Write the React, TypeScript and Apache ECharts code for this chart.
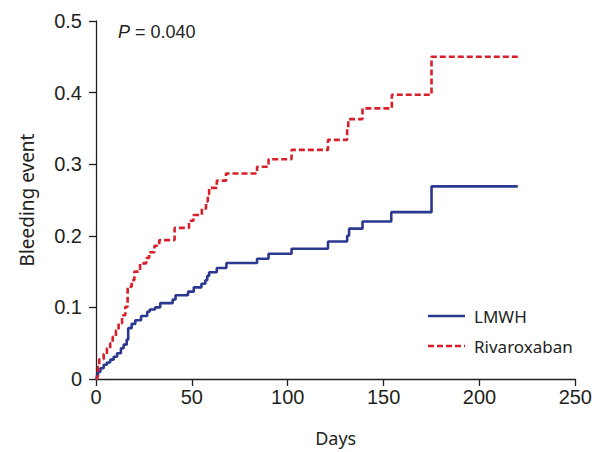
import React, { useEffect, useRef } from "react";
import * as echarts from "echarts";

const lmwhDays = [0, 0.5, 1, 2.3, 4, 5.7, 7.4, 9.2, 11, 13, 14.4, 16, 16.8, 18.6, 20.5, 23.5, 26.7, 28, 30.8, 33.5, 40, 41.5, 48, 51, 55, 57, 58, 59, 63, 68, 84, 90, 102, 121, 131, 132, 139, 154, 175, 220];
const lmwhValues = [0, 0.005, 0.01, 0.015, 0.02, 0.023, 0.027, 0.031, 0.036, 0.043, 0.048, 0.055, 0.071, 0.077, 0.082, 0.088, 0.094, 0.097, 0.1, 0.106, 0.111, 0.117, 0.122, 0.128, 0.133, 0.138, 0.144, 0.149, 0.155, 0.162, 0.168, 0.175, 0.182, 0.192, 0.2, 0.21, 0.22, 0.233, 0.269, 0.269];

const rivaDays = [0, 0.5, 1, 1.7, 4, 5.7, 7.4, 8.7, 10.4, 11.8, 13.6, 15.3, 16.5, 18.6, 20, 23, 26.2, 27.7, 30.5, 33, 41, 48.5, 50.8, 55.2, 57.4, 58.3, 59, 63, 67.8, 84, 90, 102, 121, 131, 131.6, 139, 154.3, 175, 220];
const rivaValues = [0, 0.003, 0.017, 0.0275, 0.035, 0.043, 0.05, 0.059, 0.068, 0.078, 0.089, 0.101, 0.129, 0.138, 0.15, 0.1615, 0.169, 0.177, 0.186, 0.194, 0.211, 0.221, 0.229, 0.238, 0.248, 0.258, 0.267, 0.277, 0.287, 0.2965, 0.307, 0.32, 0.334, 0.349, 0.363, 0.378, 0.397, 0.45, 0.45];

const seriesNames = ["LMWH", "Rivaroxaban"];
const xTicks = { min: 0, max: 250, interval: 50 };
const yTicks = { min: 0, max: 0.5, interval: 0.1 };

const zip = (xs: number[], ys: number[]) => xs.map((x, i) => [x, ys[i]]);

const BLUE = "#2b3990";
const RED = "#d7202a";
const DASH = [6, 3];

export default function App() {
  const ref = useRef<HTMLDivElement>(null);
  useEffect(() => {
    if (!ref.current) return;
    const chart = echarts.init(ref.current, null, { renderer: "svg" });
    const axisColor = "#231f20";
    const tickFont = { fontFamily: "Liberation Sans, Arial, sans-serif", fontSize: 20, color: axisColor };
    const legendText = { fontFamily: "Noto Sans", fontSize: 17, fill: axisColor, verticalAlign: "middle" as const };
    chart.setOption({
      animation: false,
      grid: { left: 96, top: 21, right: 19, bottom: 73 },
      xAxis: {
        type: "value",
        min: xTicks.min,
        max: xTicks.max,
        interval: xTicks.interval,
        name: "Days",
        nameLocation: "middle",
        nameGap: 50,
        nameTextStyle: { fontFamily: "Noto Sans", fontSize: 18, color: axisColor },
        axisLine: { show: true, lineStyle: { color: axisColor, width: 1.3 } },
        axisTick: { show: true, length: 7, lineStyle: { color: axisColor, width: 1.3 } },
        axisLabel: { ...tickFont, margin: 8 },
        splitLine: { show: false },
      },
      yAxis: {
        type: "value",
        min: yTicks.min,
        max: yTicks.max,
        interval: yTicks.interval,
        name: "Bleeding event",
        nameLocation: "middle",
        nameRotate: 90,
        nameGap: 60,
        nameTextStyle: { fontFamily: "Noto Sans", fontSize: 19, color: axisColor },
        axisLine: { show: true, lineStyle: { color: axisColor, width: 1.3 } },
        axisTick: { show: true, length: 7, lineStyle: { color: axisColor, width: 1.3 } },
        axisLabel: { ...tickFont, margin: 14 },
        splitLine: { show: false },
      },
      graphic: [
        {
          type: "text",
          left: 118,
          top: 23,
          style: {
            text: "{i|P} = 0.040",
            rich: {
              i: { fontStyle: "italic", fontFamily: "Liberation Sans, Arial, sans-serif", fontSize: 18, fill: axisColor },
            },
            fontFamily: "Liberation Sans, Arial, sans-serif",
            fontSize: 18,
            fill: axisColor,
          },
        },
        {
          type: "line",
          shape: { x1: 428, y1: 316, x2: 465, y2: 316 },
          style: { stroke: BLUE, lineWidth: 2.6 },
        },
        {
          type: "text",
          x: 474,
          y: 316,
          style: { ...legendText, text: seriesNames[0] },
        },
        {
          type: "line",
          shape: { x1: 428, y1: 346, x2: 465, y2: 346 },
          style: { stroke: RED, lineWidth: 2.6, lineDash: DASH },
        },
        {
          type: "text",
          x: 474,
          y: 346,
          style: { ...legendText, text: seriesNames[1] },
        },
      ],
      series: [
        {
          name: seriesNames[0],
          type: "line",
          step: "end",
          symbol: "none",
          data: zip(lmwhDays, lmwhValues),
          lineStyle: { color: BLUE, width: 2.6 },
          itemStyle: { color: BLUE },
        },
        {
          name: seriesNames[1],
          type: "line",
          step: "end",
          symbol: "none",
          data: zip(rivaDays, rivaValues),
          lineStyle: { color: RED, width: 2.6, type: DASH },
          itemStyle: { color: RED },
        },
      ],
    });
    return () => chart.dispose();
  }, []);
  return <div ref={ref} style={{ width: 595, height: 452, position: "absolute", left: 0, top: 0 }} />;
}
